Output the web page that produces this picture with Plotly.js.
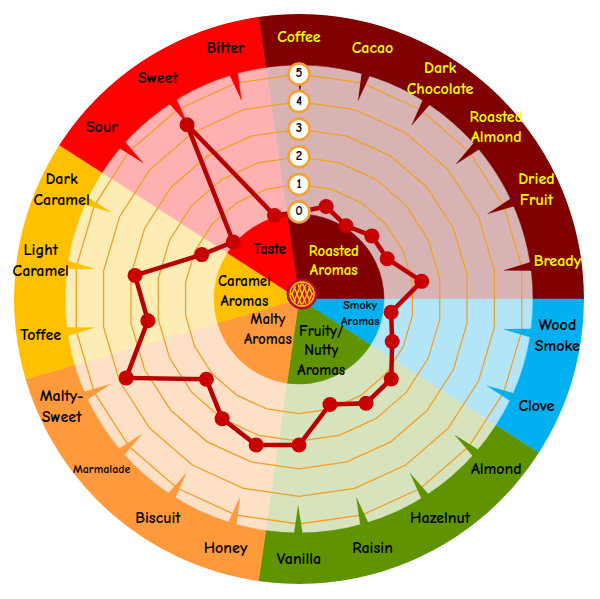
<!DOCTYPE html>
<html><head><meta charset="utf-8">
<script src="https://cdn.plot.ly/plotly-3.0.1.min.js"></script>
<style>html,body{margin:0;padding:0;background:#fff}#chart{width:600px;height:599px}</style>
</head><body><div id="chart"></div>
<script>
// ---------- data ----------
const categories = ["Coffee","Cacao","Dark<br>Chocolate","Roasted<br>Almond","Dried<br>Fruit","Bready",
  "Wood<br>Smoke","Clove",
  "Almond","Hazelnut","Raisin","Vanilla",
  "Honey","Biscuit","Marmalade","Malty-<br>Sweet",
  "Toffee","Light<br>Caramel","Dark<br>Caramel",
  "Sour","Sweet","Bitter"];
const categoryGroup = [0,0,0,0,0,0, 1,1, 2,2,2,2, 3,3,3,3, 4,4,4, 5,5,5];
const values = [0,0.34,0,0.34,0.36,1.34, 0.22,0.56, 1.27,1.34,0.83,2.14, 2.36,2.0,1.29,3.73, 2.38,2.85,0.72, 0,4.35,0];
const groupNames = ["Roasted<br>Aromas","Smoky<br>Aromas","Fruity/<br>Nutty<br>Aromas","Malty<br>Aromas","Caramel<br>Aromas","Taste"];
const groupColors = ["#800000","#00b0f0","#5f9300","#ff9a3c","#ffc000","#ff0000"];
const groupLight  = ["#d8b3b3","#b3e5f8","#d6e3bd","#fde0c5","#feecb5","#ffb1b1"];
const tickValues = [0,1,2,3,4,5];

// ---------- geometry (pixels -> radial units) ----------
const CX = 299, CY = 299, R = 285, UNIT = 27.6;
const RMIN = -87 / UNIT, RMAX = RMIN + R / UNIT;
const px2r = p => RMIN + p / UNIT;
const n = categories.length, step = 360 / n;
const angles = categories.map((c, i) => i * step);

// group spans
const gFirst = groupNames.map((g, gi) => categoryGroup.indexOf(gi));
const gLast = groupNames.map((g, gi) => categoryGroup.lastIndexOf(gi));
const gCenter = groupNames.map((g, gi) => (gFirst[gi] + gLast[gi]) / 2 * step);
const gWidth = groupNames.map((g, gi) => (gLast[gi] - gFirst[gi] + 1) * step);

const FONT = "Comic Sans MS, Comic Neue, DejaVu Sans, sans-serif";
const BAND_IN = px2r(234);

const traces = [];
function band(base, top, colors) {
  return { type: 'barpolar', theta: gCenter, r: gCenter.map(() => top - base), base: base, width: gWidth,
    marker: { color: colors, line: { color: colors, width: 0.5 } }, hoverinfo: 'skip', showlegend: false };
}
traces.push(band(RMIN, BAND_IN, groupLight));     // light band
traces.push(band(BAND_IN, RMAX, groupColors));    // outer band
traces.push(band(RMIN, px2r(85), groupColors));   // inner pie

// grid polygons
const gr = [], gt = [];
tickValues.filter(v => v > 0).forEach(v => {
  angles.forEach(a => { gr.push(v); gt.push(a); });
  gr.push(v); gt.push(360); gr.push(null); gt.push(null);
});
traces.push({ type: 'scatterpolar', mode: 'lines', r: gr, theta: gt, connectgaps: false,
  line: { color: '#f0a028', width: 1.3 }, hoverinfo: 'skip', showlegend: false });
// notches
groupColors.forEach((col, gi) => {
  const r = [], t = [];
  angles.forEach((a, i) => {
    if (categoryGroup[i] !== gi) return;
    r.push(BAND_IN + 0.05, BAND_IN + 0.05, px2r(207), null);
    t.push(a - 0.9, a + 1.2, a + 0.2, null);
  });
  traces.push({ type: 'scatterpolar', mode: 'lines', r: r, theta: t, fill: 'toself', fillcolor: col,
    line: { color: col, width: 0.5 }, hoverinfo: 'skip', showlegend: false });
});
// data
traces.push({
  type: 'scatterpolar', mode: 'lines+markers', r: values.concat([values[0]]), theta: angles.concat([360]),
  line: { color: '#b80000', width: 4.5 }, marker: { color: '#c80000', size: 15 },
  hoverinfo: 'skip', showlegend: false
});
// tick labels
traces.push({
  type: 'scatterpolar', mode: 'markers+text', r: tickValues, theta: tickValues.map(() => 0),
  text: tickValues.map(v => String(v)), textposition: 'middle center',
  textfont: { family: FONT, size: 13, color: '#000', weight: 'bold' },
  marker: { color: '#ffffff', size: 21, line: { color: '#f5a030', width: 2.5 } },
  hoverinfo: 'skip', showlegend: false
});
// outer labels
traces.push({
  type: 'scatterpolar', mode: 'text', r: angles.map(() => px2r(261)), theta: angles, text: categories,
  textposition: 'middle center',
  textfont: { family: FONT, size: categories.map(c => c === 'Marmalade' ? 12 : 16), weight: 'bold',
    color: categoryGroup.map(g => g === 0 ? '#ffff00' : '#000000') },
  hoverinfo: 'skip', showlegend: false
});
// inner labels
const innerPos = [[51, 43], [63, 104], [57, 157], [44, 225], [55, 277], [57, 329]];
traces.push({
  type: 'scatterpolar', mode: 'text', r: innerPos.map(p => px2r(p[0])), theta: innerPos.map(p => p[1]),
  text: groupNames, textposition: 'middle center',
  textfont: { family: FONT, size: groupNames.map((g, i) => i === 1 ? 12 : 15), weight: 'bold',
    color: groupNames.map((g, i) => i === 0 ? '#ffff00' : '#000000') },
  hoverinfo: 'skip', showlegend: false
});

// logo shapes
const W = 600, H = 599;
const px = x => x / W, py = y => 1 - y / H;
const LX = 302, LY = 294;
const shapes = [
  { type: 'circle', xref: 'paper', yref: 'paper', x0: px(LX - 15), x1: px(LX + 15), y0: py(LY + 15), y1: py(LY - 15),
    fillcolor: '#c8102e', line: { color: '#b00020', width: 1 } },
  { type: 'circle', xref: 'paper', yref: 'paper', x0: px(LX - 12), x1: px(LX + 12), y0: py(LY + 12), y1: py(LY - 12),
    fillcolor: 'rgba(0,0,0,0)', line: { color: '#ffd700', width: 1.3 } }
];
const RL = 10.5, S = 4.6;
[[0.42, 1], [-0.42, 1]].forEach(d => {
  const m = Math.hypot(d[0], d[1]); const u = [d[0] / m, d[1] / m]; const p = [u[1], -u[0]];
  for (let k = -2; k <= 2; k++) {
    const off = k * S; if (Math.abs(off) >= RL) continue;
    const h = Math.sqrt(RL * RL - off * off);
    const x0 = LX + p[0] * off - u[0] * h, y0 = LY + p[1] * off - u[1] * h;
    const x1 = LX + p[0] * off + u[0] * h, y1 = LY + p[1] * off + u[1] * h;
    shapes.push({ type: 'line', xref: 'paper', yref: 'paper', x0: px(x0), y0: py(y0), x1: px(x1), y1: py(y1),
      line: { color: '#ffd700', width: 1.4 } });
  }
});

const layout = {
  width: 600, height: 599, margin: { l: 0, r: 0, t: 0, b: 0 }, paper_bgcolor: '#ffffff',
  showlegend: false, hovermode: false,
  polar: {
    domain: { x: [(CX - R) / W, (CX + R) / W], y: [1 - (CY + R) / H, 1 - (CY - R) / H] },
    bgcolor: 'rgba(0,0,0,0)', barmode: 'overlay', bargap: 0,
    radialaxis: { range: [RMIN, RMAX], visible: false, showgrid: false },
    angularaxis: { rotation: 90, direction: 'clockwise', visible: false, showgrid: false, thetaunit: 'degrees' }
  },
  shapes: shapes
};
Plotly.newPlot('chart', traces, layout, { displayModeBar: false, staticPlot: true });
</script></body></html>
